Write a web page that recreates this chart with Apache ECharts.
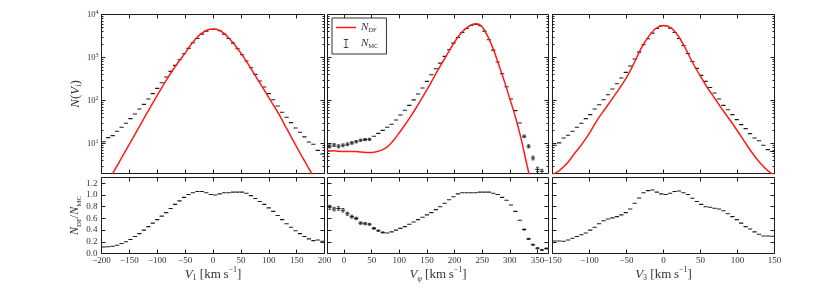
<!DOCTYPE html>
<html><head><meta charset="utf-8">
<script src="https://cdn.jsdelivr.net/npm/echarts@6/dist/echarts.min.js"></script>
<style>html,body{margin:0;padding:0;background:#fff}#c{width:814px;height:291px}</style>
</head><body><div id="c"></div>
<script>
// ---------------- data ----------------
const V1_CENTERS = [-196,-188,-180,-172,-164,-156,-148,-140,-132,-124,-116,-108,-100,-92,-84,-76,-68,-60,-52,-44,-36,-28,-20,-12,-4,4,12,20,28,36,44,52,60,68,76,84,92,100,108,116,124,132,140,148,156,164,172,180,188,196];
const V1_MC = [11.0,13.7,15.2,19.2,23.8,29.4,37.8,48.5,63.4,81.3,108,144,191,259,351,475,655,887,1222,1625,2202,2775,3500,4108,4490,4500,4200,3490,2775,2163,1597,1159,826,578,404,283,205,144,104,74.4,53.0,40.6,30.5,22.9,18.2,14.2,10.8,9.6,6.9,5.7];
const V1_RATIO = [0.11,0.115,0.125,0.14,0.17,0.20,0.24,0.29,0.34,0.40,0.46,0.52,0.58,0.64,0.70,0.77,0.84,0.90,0.96,1.01,1.04,1.06,1.06,1.04,1.01,1.00,1.02,1.04,1.04,1.05,1.05,1.05,1.03,0.99,0.94,0.89,0.84,0.78,0.72,0.65,0.58,0.51,0.45,0.39,0.34,0.29,0.25,0.22,0.23,0.21];
const V1_DF_X = [-200,-190,-180,-170,-160,-150,-140,-130,-120,-110,-100,-90,-80,-70,-60,-50,-40,-30,-20,-10,0,10,20,30,40,50,60,70,80,90,100,110,120,130,140,150,160,170,180,190,200];
const V1_DF = [0.70,1.18,2.0,3.37,5.7,9.6,16.3,27.5,46.6,79,132,219,355,562,851,1259,1950,2818,3681,4365,4571,4365,3631,2692,1905,1259,813,501,309,191,117,72.4,43.7,25,14.5,8.3,4.9,2.9,1.7,1.0,0.59];

const PHI_CENTERS = [-26,-18,-10,-2,6,14,22,30,38,46,54,62,70,78,86,94,102,110,118,126,134,142,150,158,166,174,182,190,198,206,214,222,230,238,246,254,262,270,278,286,294,302,310,318,326,334,342,350,358,366];
const PHI_MC = [8.6,9.2,8.6,9.05,9.6,10.3,11.0,11.9,12.3,12.5,14.7,17.2,20.2,23.8,27.9,35.2,45.9,59,77,103,141,195,278,397,548,741,1059,1514,2163,2927,3826,4740,5560,5870,5460,4110,2584,1486,783,420,209,108,58,30,14.7,8.6,4.6,2.5,2.25,1.5];
const PHI_MC_ERR = [0.7,0.7,0.7,0.7,0.7,0.7,0.7,0.7,0.7,0.7,0,0,0,0,0,0,0,0,0,0,0,0,0,0,0,0,0,0,0,0,0,0,0,0,0,0,0,0,0,0,0,0,0,0,1.0,0.7,0.45,0.3,0.25,0];
const PHI_RATIO = [0.79,0.76,0.77,0.74,0.68,0.63,0.60,0.52,0.51,0.50,0.43,0.39,0.36,0.35,0.37,0.40,0.43,0.46,0.50,0.54,0.58,0.62,0.66,0.70,0.75,0.80,0.86,0.92,0.97,1.02,1.04,1.04,1.04,1.04,1.05,1.05,1.05,1.03,1.01,0.96,0.91,0.83,0.72,0.57,0.41,0.25,0.15,0.09,0.06,0.085];
const PHI_RATIO_ERR = [0.035,0.03,0.03,0.03,0.025,0.025,0.02,0.02,0.02,0.015,0.015,0.012,0.01,0,0,0,0,0,0,0,0,0,0,0,0,0,0,0,0,0,0,0,0,0,0,0,0,0,0,0,0,0,0,0,0.01,0.01,0.01,0.01,0.01,0.01];
const PHI_DF_X = [-30,-20,-10,0,10,20,30,40,50,60,70,80,90,100,110,120,130,140,150,160,170,180,190,200,210,220,230,240,250,260,270,280,290,300,310,320,330,340,350,360,370];
const PHI_DF = [6.6,6.8,6.6,6.5,6.5,6.5,6.3,6.2,6.2,6.5,7.2,8.7,12.0,17.8,26.9,41.7,66,107,178,302,513,851,1413,2291,3467,4677,5754,6095,5129,3090,1585,676,282,110,41.7,13.5,3.6,1.0,0.25,0.063,0.016];

const V3_CENTERS = [-147,-141,-135,-129,-123,-117,-111,-105,-99,-93,-87,-81,-75,-69,-63,-57,-51,-45,-39,-33,-27,-21,-15,-9,-3,3,9,15,21,27,33,39,45,51,57,63,69,75,81,87,93,99,105,111,117,123,129,135,141,147];
const V3_MC = [9.1,10.3,13.4,15.5,19.2,23.8,29.4,37.8,46.8,63.4,79.8,104,136,185,245,333,450,632,919,1336,1977,2728,3690,4740,5470,5470,4820,3820,2773,1905,1242,809,557,383,278,201,149,108,77,61,46.8,35.8,27.4,22.1,16.9,13.4,11.6,9.1,7.2,6.5];
const V3_RATIO = [0.215,0.215,0.21,0.23,0.26,0.29,0.32,0.35,0.40,0.45,0.51,0.56,0.59,0.61,0.63,0.66,0.70,0.76,0.86,0.95,1.04,1.075,1.085,1.05,1.02,1.01,1.03,1.06,1.07,1.04,1.01,0.945,0.89,0.84,0.80,0.79,0.775,0.76,0.73,0.68,0.63,0.58,0.52,0.46,0.42,0.37,0.33,0.30,0.30,0.295];
const V3_DF_X = [-150,-140,-130,-120,-110,-100,-90,-80,-70,-60,-50,-40,-30,-20,-10,0,10,20,30,40,50,60,70,80,90,100,110,120,130,140,150];
const V3_DF = [1.86,2.4,3.5,5.9,9.8,17.4,34,60,105,186,339,724,1660,3090,4790,5560,4900,3160,1585,724,363,190,107,60,34.7,19.5,10.7,6.0,3.6,2.4,1.8];

const X_TICKS_1 = [-200,-150,-100,-50,0,50,100,150,200];
const X_TICKS_PHI = [0,50,100,150,200,250,300,350];
const X_TICKS_3 = [-150,-100,-50,0,50,100,150];
const LOG_MAJOR = [10,100,1000,10000];
const LOG_MINOR = [3,4,5,6,7,8,9,20,30,40,50,60,70,80,90,200,300,400,500,600,700,800,900,2000,3000,4000,5000,6000,7000,8000,9000];
const RATIO_TICKS = [0,0.2,0.4,0.6,0.8,1.0,1.2];

// ---------------- style ----------------
const FONT = 'Liberation Serif';
const TXT = '#333';
const AX = '#1e1e1e';
const RICH = {
  it: {fontFamily: FONT, fontStyle: 'italic', fontSize: 13, color: TXT, lineHeight: 16},
  rm: {fontFamily: FONT, fontSize: 13, color: TXT, lineHeight: 16},
  sub: {fontFamily: FONT, fontSize: 8, color: TXT, lineHeight: 7, verticalAlign: 'bottom'},
  subit: {fontFamily: FONT, fontStyle: 'italic', fontSize: 8, color: TXT, lineHeight: 7, verticalAlign: 'bottom'},
  sup: {fontFamily: FONT, fontSize: 8, color: TXT, lineHeight: 10, verticalAlign: 'top'}
};
const fmtNum = v => (v < 0 ? '\u2212' + (-v) : '' + v);
const NOLINE = {show: false, onZero: false};

const panels = [
  {min: -200, max: 200, ticks: X_TICKS_1, centers: V1_CENTERS, mc: V1_MC, mcErr: null, ratio: V1_RATIO, ratioErr: null, dfx: V1_DF_X, df: V1_DF, left: 101.5, width: 223,
   xname: '{it|V}{sub|1}{rm| [km\u2009s}{sup|\u22121}{rm|]}'},
  {min: -30, max: 370, ticks: X_TICKS_PHI, centers: PHI_CENTERS, mc: PHI_MC, mcErr: PHI_MC_ERR, ratio: PHI_RATIO, ratioErr: PHI_RATIO_ERR, dfx: PHI_DF_X, df: PHI_DF, left: 327.5, width: 221,
   xname: '{it|V}{subit|\u03c6}{rm| [km\u2009s}{sup|\u22121}{rm|]}'},
  {min: -150, max: 150, ticks: X_TICKS_3, centers: V3_CENTERS, mc: V3_MC, mcErr: null, ratio: V3_RATIO, ratioErr: null, dfx: V3_DF_X, df: V3_DF, left: 552.5, width: 222,
   xname: '{it|V}{sub|3}{rm| [km\u2009s}{sup|\u22121}{rm|]}'}
];

const grid = [], xAxis = [], yAxis = [], series = [];
const tickStyle = (len, vals) => ({show: true, inside: true, length: len, customValues: vals, lineStyle: {color: AX, width: 1}});

function errRender(isLog) {
  return function (params, api) {
    const x = api.value(0), y = api.value(1), e = api.value(2);
    const p = api.coord([x, y]);
    const hw = 2.1;
    const st = {stroke: '#1a1a1a', lineWidth: 1.1};
    const ch = [{type: 'line', shape: {x1: p[0] - hw, y1: p[1], x2: p[0] + hw, y2: p[1]}, style: st}];
    if (e > 0) {
      const lo = isLog ? Math.max(y - e, 1e-3) : y - e;
      const t = api.coord([x, y + e]), b = api.coord([x, lo]);
      const cw = 1.5;
      const s2 = {stroke: '#1a1a1a', lineWidth: 0.8};
      ch.push({type: 'line', shape: {x1: p[0], y1: t[1], x2: p[0], y2: b[1]}, style: s2});
      ch.push({type: 'line', shape: {x1: p[0] - cw, y1: t[1], x2: p[0] + cw, y2: t[1]}, style: s2});
      ch.push({type: 'line', shape: {x1: p[0] - cw, y1: b[1], x2: p[0] + cw, y2: b[1]}, style: s2});
    }
    return {type: 'group', children: ch};
  };
}

panels.forEach((P, i) => {
  grid.push({left: P.left, top: 14.5, width: P.width, height: 159, show: true, borderColor: AX, borderWidth: 1, backgroundColor: 'transparent'});
  const gT = i;
  xAxis.push({type: 'value', gridIndex: gT, position: 'bottom', min: P.min, max: P.max,
    axisLine: NOLINE, splitLine: {show: false}, axisTick: tickStyle(4, P.ticks), axisLabel: {show: false}});
  xAxis.push({type: 'value', gridIndex: gT, position: 'top', min: P.min, max: P.max,
    axisLine: NOLINE, splitLine: {show: false}, axisTick: tickStyle(4, P.ticks), axisLabel: {show: false}});
  const yBase = {type: 'log', gridIndex: gT, min: 2, max: 10000, logBase: 10, axisLine: NOLINE, splitLine: {show: false}};
  yAxis.push(Object.assign({}, yBase, {position: 'left', axisTick: tickStyle(4, LOG_MAJOR),
    axisLabel: i === 0 ? {show: true, customValues: LOG_MAJOR, margin: 3,
      formatter: v => '{b|10}{p|' + Math.round(Math.log10(v)) + '}',
      rich: {b: {fontFamily: FONT, fontSize: 8.5, color: TXT, lineHeight: 11}, p: {fontFamily: FONT, fontSize: 6, color: TXT, lineHeight: 6, verticalAlign: 'top'}}} : {show: false},
    name: i === 0 ? '{it|N}{rm|(}{it|V}{subit|i}{rm|)}' : '', nameLocation: 'middle', nameGap: 18, nameRotate: 90,
    nameTextStyle: {rich: RICH}}));
  yAxis.push(Object.assign({}, yBase, {position: 'right', axisTick: tickStyle(4, LOG_MAJOR), axisLabel: {show: false}}));
  yAxis.push(Object.assign({}, yBase, {position: 'left', axisTick: tickStyle(2, LOG_MINOR), axisLabel: {show: false}}));
  yAxis.push(Object.assign({}, yBase, {position: 'right', axisTick: tickStyle(2, LOG_MINOR), axisLabel: {show: false}}));

  series.push({type: 'line', name: 'NDF', xAxisIndex: 2 * i, yAxisIndex: 4 * i, symbol: 'none', showSymbol: false, smooth: 0.3, z: 4,
    lineStyle: {color: '#ff1a1a', width: 1.5}, itemStyle: {color: '#ff1a1a'}, clip: true,
    data: P.dfx.map((x, k) => [x, P.df[k]])});
  series.push({type: 'custom', name: 'NMC', xAxisIndex: 2 * i, yAxisIndex: 4 * i, clip: true, z: 3,
    itemStyle: {color: '#111'}, encode: {x: 0, y: 1}, renderItem: errRender(true),
    data: P.centers.map((c, k) => [c, P.mc[k], P.mcErr ? P.mcErr[k] : 0])});
});

panels.forEach((P) => {
  grid.push({left: P.left, top: 177.5, width: P.width, height: 76, show: true, borderColor: AX, borderWidth: 1, backgroundColor: 'transparent'});
});

panels.forEach((P, i) => {
  const g = 3 + i;
  xAxis.push({type: 'value', gridIndex: g, position: 'bottom', min: P.min, max: P.max,
    axisLine: NOLINE, splitLine: {show: false}, axisTick: tickStyle(4, P.ticks),
    axisLabel: {show: true, customValues: P.ticks, formatter: fmtNum, fontFamily: FONT, fontSize: 9, color: TXT, margin: 3},
    name: P.xname, nameLocation: 'middle', nameGap: 12, nameTextStyle: {rich: RICH}});
  xAxis.push({type: 'value', gridIndex: g, position: 'top', min: P.min, max: P.max,
    axisLine: NOLINE, splitLine: {show: false}, axisTick: tickStyle(4, P.ticks), axisLabel: {show: false}});
  const yb = {type: 'value', gridIndex: g, min: 0, max: 1.3, axisLine: NOLINE, splitLine: {show: false}};
  yAxis.push(Object.assign({}, yb, {position: 'left', axisTick: tickStyle(4, RATIO_TICKS),
    axisLabel: i === 0 ? {show: true, customValues: RATIO_TICKS, formatter: v => v.toFixed(1), fontFamily: FONT, fontSize: 9, color: TXT, margin: 4} : {show: false},
    name: i === 0 ? '{it|N}{sub|DF}{rm|/}{it|N}{sub|MC}' : '', nameLocation: 'middle', nameGap: 17, nameRotate: 90,
    nameTextStyle: {rich: {
      it: {fontFamily: FONT, fontStyle: 'italic', fontSize: 12, color: TXT, lineHeight: 15},
      rm: {fontFamily: FONT, fontSize: 12, color: TXT, lineHeight: 15},
      sub: {fontFamily: FONT, fontSize: 7, color: TXT, lineHeight: 6, verticalAlign: 'bottom'}}}}));
  yAxis.push(Object.assign({}, yb, {position: 'right', axisTick: tickStyle(4, RATIO_TICKS), axisLabel: {show: false}}));
  series.push({type: 'custom', name: 'ratio', xAxisIndex: 6 + 2 * i, yAxisIndex: 12 + 2 * i, clip: true,
    itemStyle: {color: '#111'}, encode: {x: 0, y: 1}, renderItem: errRender(false),
    data: P.centers.map((c, k) => [c, P.ratio[k], P.ratioErr ? P.ratioErr[k] : 0])});
});

const chart = echarts.init(document.getElementById('c'), null, {renderer: 'canvas'});
chart.setOption({
  animation: false,
  backgroundColor: '#fff',
  grid, xAxis, yAxis, series,
  legend: {
    left: 332, top: 18, orient: 'vertical', itemWidth: 20, itemHeight: 9, itemGap: 4,
    padding: [4, 8, 4, 4], borderColor: '#333', borderWidth: 1, borderRadius: 0, backgroundColor: '#fff',
    selectedMode: false,
    data: [{name: 'NDF', icon: 'path://M0 0H20V1.5H0Z'}, {name: 'NMC', icon: 'path://M0 0H5V0.8H0Z M2.1 0H2.9V10H2.1Z M0 9.2H5V10H0Z'}],
    formatter: n => (n === 'NDF' ? '{n|N}{s|DF}' : '{n|N}{s|MC}'),
    textStyle: {rich: {
      n: {fontFamily: FONT, fontStyle: 'italic', fontSize: 11, color: TXT, lineHeight: 13},
      s: {fontFamily: FONT, fontSize: 6.5, color: TXT, lineHeight: 6, verticalAlign: 'bottom'}}}
  }
});
</script></body></html>
